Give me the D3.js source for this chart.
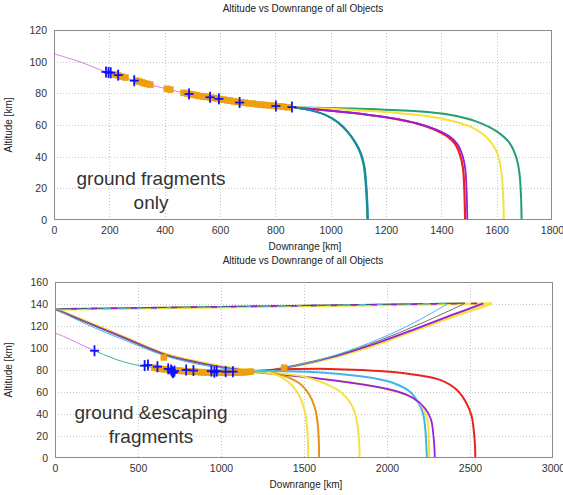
<!DOCTYPE html>
<html>
<head>
<meta charset="utf-8">
<script src="https://cdn.jsdelivr.net/npm/d3@7"></script>
<style>
  body { margin: 0; background: #fff; }
  svg { display: block; font-family: "Liberation Sans", Arial, sans-serif; }
</style>
</head>
<body>
<svg id="chart" width="563" height="495"></svg>
<script>
// ---- data (downrange km, altitude km) ----
var titleText = "Altitude vs Downrange of all Objects";

// top panel: ground fragments only
var topXTicks = [0, 200, 400, 600, 800, 1000, 1200, 1400, 1600, 1800];
var topYTicks = [0, 20, 40, 60, 80, 100, 120];
var topCommon = [[0,105],[100,99.5],[193,93.2],[232,91.5],[290,88],[420,82.3],[488,79.5],[564,77.3],[596,76.4],[671,74.2],[802,72],[870,71]];
var topGreen2 = [[870,71],[930,69.2],[980,66.5],[1025,61.5],[1058,56],[1087,49],[1107,42],[1119,34],[1126,22],[1130,10],[1132,0]];
var topBlue = [[870,71],[935,69],[985,66],[1030,61.5],[1062,56],[1091,49],[1111,42],[1123,34],[1130,22],[1134,10],[1136,0]];
var topTeal = [[870,71],[932,69.1],[983,66.2],[1028,61.5],[1060,56],[1089,49],[1109,42],[1121,34],[1128,22],[1132,10],[1134,0]];
var topRed = [[870,71],[1000,69],[1120,66.8],[1230,64],[1310,61],[1370,57.5],[1420,53],[1450,48],[1468,41],[1478,33],[1483,20],[1485,8],[1486,0]];
var topPurple = [[870,71],[1000,69],[1120,66.8],[1230,64],[1312,61],[1375,57.5],[1428,53],[1458,48],[1476,41],[1486,33],[1491,20],[1493,8],[1494,0]];
var topYellow = [[870,71],[1050,69.8],[1200,68.2],[1350,65.5],[1450,62],[1510,58.5],[1565,52],[1598,44],[1614,34],[1622,20],[1625,8],[1626,0]];
var topGreen = [[870,71],[1100,70.3],[1300,68.8],[1430,66.5],[1530,62],[1600,56],[1645,49],[1670,40],[1682,30],[1688,15],[1690,0]];
var topPluses = [[188,93.5],[197,93.2],[205,93],[232,91.5],[290,88],[488,79.6],[564,77.5],[596,76.5],[671,74.2],[802,72],[860,71.3]];
var topSquares = [[220,91.8],[232,91.2],[245,90.5],[258,89.9],[298,87.9],[308,87.4],[318,86.9],[328,86.4],[338,85.9],[348,85.4],[408,82.8],[420,82.3],[468,80.3],[480,79.9],[492,79.5],[504,79.1],[516,78.7],[528,78.3],[540,78],[552,77.7],[566,77.3],[578,77],[590,76.7],[602,76.3],[614,76],[626,75.6],[638,75.3],[650,74.9],[662,74.6],[676,74.2],[690,74],[705,73.7],[720,73.4],[735,73.1],[750,72.8],[765,72.6],[780,72.3],[795,72.1],[815,71.8],[830,71.5],[845,71.2]];

// bottom panel: ground & escaping fragments
var botXTicks = [0, 500, 1000, 1500, 2000, 2500, 3000];
var botYTicks = [0, 20, 40, 60, 80, 100, 120, 140, 160];
var botPink = [[0,113.5],[60,110],[130,105],[238,97.5]];
var botGreenPath = [[238,97.5],[380,89],[509,84],[617,82],[700,80.3],[850,79],[1000,78.2],[1150,78],[1280,78.5]];
var escLightBlue = [[0,135.5],[205,120.5],[422,107],[660,93],[855,85.5],[1071,80.5],[1250,78.8],[1450,84],[1700,94],[1950,108],[2150,122],[2370,140.5]];
var escGray = [[0,135.5],[205,122],[422,108.5],[660,94],[855,86.5],[1071,81],[1250,79],[1450,84],[1700,93.5],[1950,106.5],[2200,122],[2470,140.5]];
var escPurple = [[0,135.5],[205,122.5],[422,109],[660,94.3],[855,87],[1071,81],[1250,79],[1450,84],[1700,93],[1950,105],[2200,119],[2400,130.5],[2580,140.5]];
var escYellow = [[0,135.5],[205,123],[422,109.5],[660,94.5],[855,87.5],[1071,81.5],[1250,79],[1450,84],[1700,92.5],[1950,104],[2200,118],[2420,130],[2630,140.5]];
var topLineDark = [[0,135.5],[2470,140.8]];
var topLineTeal = [[0,135],[2370,140.6]];
var topLinePurple = [[0,135.5],[2580,140.6]];
var topLineYellow = [[0,135],[2630,140.5]];
var botYellow1 = [[1200,78.5],[1300,77],[1380,72],[1440,64],[1480,54],[1505,42],[1518,28],[1524,14],[1526,0]];
var botOrange = [[1200,78.5],[1320,77],[1400,73.5],[1480,67],[1530,58],[1565,46],[1582,32],[1589,16],[1591,0]];
var botYellow2 = [[1200,78.5],[1350,77],[1500,74],[1620,68],[1720,60],[1780,50],[1812,38],[1828,22],[1834,8],[1835,0]];
var botLightBlue = [[1200,79],[1350,79],[1518,78.5],[1700,76.5],[1916,72.7],[2050,67.5],[2140,60],[2190,50],[2218,40],[2233,22],[2238,8],[2240,0]];
var botYellow3 = [[1200,78],[1350,76],[1600,72],[1850,67],[2050,60.5],[2150,55],[2215,46],[2245,33],[2252,18],[2255,0]];
var botPurple = [[1200,78],[1350,76],[1614,71.8],[1850,67],[2050,61],[2157,54.5],[2230,45],[2265,35],[2280,20],[2286,8],[2288,0]];
var botRed = [[1200,79],[1300,80],[1450,80.8],[1657,81],[1850,80],[2018,78.5],[2180,75.5],[2320,71],[2420,62],[2478,50],[2510,38],[2526,20],[2531,8],[2532,0]];
var botPluses = [[238,97.5],[540,84],[560,84.5],[617,83],[682,81],[700,80],[706,78.5],[712,77.5],[720,79],[790,80],[834,79.5],[942,79],[960,78],[974,79],[1028,78.5],[1072,78.5]];
var botSquares = [[600,82],[620,81.5],[640,81],[656,91.5],[660,80.7],[680,80.3],[700,80],[720,79.7],[740,79.4],[760,79.2],[780,79],[800,78.8],[820,78.6],[840,78.4],[860,78.2],[880,78],[900,78],[920,77.9],[940,77.8],[960,77.7],[980,77.6],[1000,77.6],[1020,77.5],[1040,77.5],[1060,77.5],[1080,77.6],[1100,77.7],[1120,77.8],[1140,78],[1160,78.2],[1180,78.4],[1380,82]];

var col = {
  pink: "#d77ce6", teal: "#1a8a9c", blue: "#3c93d4", green: "#23a06c",
  red: "#e8251b", purple: "#9a1ce0", yellow: "#f3e33c", orange: "#f0a012",
  lightblue: "#3fb6ea", gray: "#6e6e6e", dark: "#2f5f6a", plus: "#1010ff"
};

var svg = d3.select("#chart");

var drawPanel = function (p) {
  var g = svg.append("g");
  var x = d3.scaleLinear().domain([p.xTicks[0], p.xTicks[p.xTicks.length - 1]]).range([p.left, p.right]);
  var y = d3.scaleLinear().domain([p.yTicks[0], p.yTicks[p.yTicks.length - 1]]).range([p.bottom, p.top]);

  // dotted grid
  g.selectAll(".gx").data(p.xTicks.slice(1, -1)).enter().append("line")
    .attr("x1", d => Math.round(x(d)) + 0.5).attr("x2", d => Math.round(x(d)) + 0.5)
    .attr("y1", p.top).attr("y2", p.bottom)
    .attr("stroke", "#c8c8c8").attr("stroke-dasharray", "1,2");
  g.selectAll(".gy").data(p.yTicks.slice(1, -1)).enter().append("line")
    .attr("y1", d => Math.round(y(d)) + 0.5).attr("y2", d => Math.round(y(d)) + 0.5)
    .attr("x1", p.left).attr("x2", p.right)
    .attr("stroke", "#c8c8c8").attr("stroke-dasharray", "1,2");

  // axes
  var xa = g.append("g").attr("transform", "translate(0," + p.bottom + ")")
    .call(d3.axisBottom(x).tickValues(p.xTicks).tickSize(0).tickPadding(7).tickFormat(d3.format("d")));
  var ya = g.append("g").attr("transform", "translate(" + p.left + ",0)")
    .call(d3.axisLeft(y).tickValues(p.yTicks).tickSize(0).tickPadding(7).tickFormat(d3.format("d")));
  [xa, ya].forEach(a => {
    a.select(".domain").remove();
    a.selectAll("text").attr("font-size", "10.5px").attr("fill", "#333")
      .attr("font-family", "\"Liberation Sans\", Arial, sans-serif");
  });

  var clip = "clip" + p.id;
  g.append("clipPath").attr("id", clip).append("rect")
    .attr("x", p.left).attr("y", p.top - 2).attr("width", p.right - p.left).attr("height", p.bottom - p.top + 2);
  var plot = g.append("g").attr("clip-path", "url(#" + clip + ")");

  var smooth = d3.line().x(d => x(d[0])).y(d => y(d[1])).curve(d3.curveCatmullRom.alpha(0.5));
  p.series.forEach(s => {
    plot.append("path").datum(s.data)
      .attr("d", smooth)
      .attr("fill", "none")
      .attr("stroke", s.color)
      .attr("stroke-width", s.width)
      .attr("stroke-dasharray", s.dash || null)
      .attr("stroke-dashoffset", s.offset || 0);
  });

  // orange square markers
  plot.selectAll(".sq").data(p.squares).enter().append("rect")
    .attr("x", d => x(d[0]) - 3).attr("y", d => y(d[1]) - 3)
    .attr("width", 6).attr("height", 6)
    .attr("fill", col.orange).attr("stroke", "#e89a00").attr("stroke-width", 0.5);

  // blue plus markers
  var pl = plot.selectAll(".pl").data(p.pluses).enter().append("g")
    .attr("transform", d => "translate(" + x(d[0]) + "," + y(d[1]) + ")");
  pl.append("line").attr("x1", -4.5).attr("x2", 4.5).attr("stroke", col.plus).attr("stroke-width", 1.8);
  pl.append("line").attr("y1", -5.5).attr("y2", 5.5).attr("stroke", col.plus).attr("stroke-width", 1.8);

  // box
  g.append("rect").attr("x", p.left + 0.5).attr("y", p.top + 0.5)
    .attr("width", p.right - p.left - 1).attr("height", p.bottom - p.top - 1)
    .attr("fill", "none").attr("stroke", "#8a8a8a").attr("stroke-width", 1);

  // titles
  g.append("text").attr("x", 303).attr("y", p.top - 18).attr("text-anchor", "middle")
    .attr("font-size", "10px").attr("fill", "#222").text(titleText);
  g.append("text").attr("x", (p.left + p.right) / 2 + 2).attr("y", p.bottom + 30).attr("text-anchor", "middle")
    .attr("font-size", "10px").attr("fill", "#222").text("Downrange [km]");
  g.append("text").attr("transform", "translate(12," + (p.top + p.bottom) / 2 + ") rotate(-90)")
    .attr("text-anchor", "middle").attr("font-size", "10px").attr("fill", "#222").text("Altitude [km]");

  // annotation
  var ann = g.append("text").attr("text-anchor", "middle").attr("font-size", "19px").attr("fill", "#333");
  p.note.forEach((t, i) => {
    ann.append("tspan").attr("x", 151).attr("y", p.noteY + i * 24).text(t);
  });
};

drawPanel({
  id: "top", left: 54, right: 552, top: 30, bottom: 220,
  xTicks: topXTicks, yTicks: topYTicks,
  series: [
    { data: topCommon, color: col.pink, width: 1 },
    { data: topGreen, color: col.green, width: 2 },
    { data: topYellow, color: col.yellow, width: 2 },
    { data: topRed, color: col.red, width: 2.2 },
    { data: topPurple, color: col.purple, width: 1.8 },
    { data: topGreen2, color: col.green, width: 1.6 },
    { data: topBlue, color: col.blue, width: 1.4 },
    { data: topTeal, color: col.teal, width: 1.8 }
  ],
  squares: topSquares, pluses: topPluses,
  note: ["ground fragments", "only"], noteY: 185
});

drawPanel({
  id: "bot", left: 55, right: 553, top: 282, bottom: 458,
  xTicks: botXTicks, yTicks: botYTicks,
  series: [
    { data: topLineYellow, color: col.yellow, width: 2.5 },
    { data: topLineDark, color: col.dark, width: 1.3 },
    { data: topLineTeal, color: col.lightblue, width: 1.3, dash: "7,9" },
    { data: topLinePurple, color: col.purple, width: 1.6, dash: "6,14", offset: 4 },
    { data: escYellow, color: col.yellow, width: 3 },
    { data: escPurple, color: col.purple, width: 1.8 },
    { data: escGray, color: col.gray, width: 1 },
    { data: escLightBlue, color: col.lightblue, width: 1 },
    { data: botRed, color: col.red, width: 2 },
    { data: botLightBlue, color: col.lightblue, width: 2 },
    { data: botYellow3, color: col.yellow, width: 2 },
    { data: botPurple, color: col.purple, width: 1.8 },
    { data: botYellow2, color: col.yellow, width: 2 },
    { data: botOrange, color: "#e8901a", width: 2 },
    { data: botYellow1, color: col.yellow, width: 2 },
    { data: botPink, color: col.pink, width: 1 },
    { data: botGreenPath, color: "#3cb88a", width: 1 }
  ],
  squares: botSquares, pluses: botPluses,
  note: ["ground &escaping", "fragments"], noteY: 419
});
</script>
</body>
</html>
